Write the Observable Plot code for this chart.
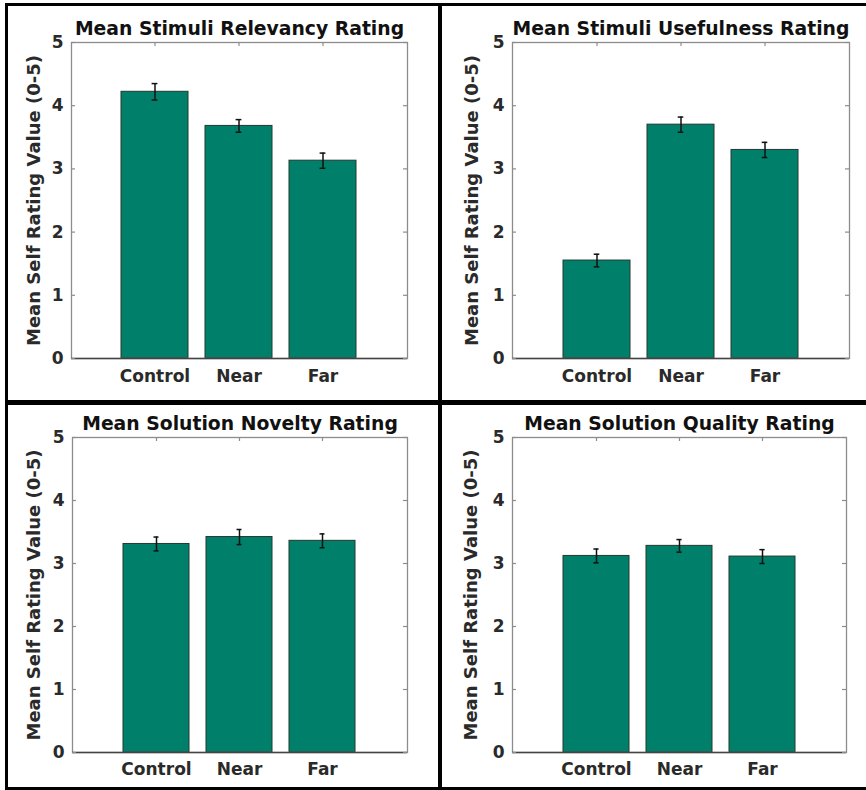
<!DOCTYPE html>
<html><head><meta charset="utf-8">
<script src="https://cdn.jsdelivr.net/npm/d3@7"></script>
<script src="https://cdn.jsdelivr.net/npm/@observablehq/plot@0.6"></script>
<style>
body{margin:0;background:#fff;}
#wrap{position:relative;width:866px;height:790px;overflow:hidden;background:#fff;}
.panel{position:absolute;}
.line{position:absolute;background:#000;}
</style></head><body>
<div id="wrap"></div>
<script>
const categories = ["Control", "Near", "Far"];
const yTicks = [0, 1, 2, 3, 4, 5];
const yLabel = "Mean Self Rating Value (0-5)";

const titleRelevancy = "Mean Stimuli Relevancy Rating";
const relevancy = [4.22, 3.68, 3.13];
const relevancyErr = [0.13, 0.10, 0.12];

const titleUsefulness = "Mean Stimuli Usefulness Rating";
const usefulness = [1.55, 3.70, 3.30];
const usefulnessErr = [0.10, 0.12, 0.12];

const titleNovelty = "Mean Solution Novelty Rating";
const novelty = [3.31, 3.42, 3.36];
const noveltyErr = [0.11, 0.12, 0.11];

const titleQuality = "Mean Solution Quality Rating";
const quality = [3.12, 3.28, 3.11];
const qualityErr = [0.11, 0.10, 0.11];

const wrap = document.getElementById("wrap");

function panel(o) {
  const data = categories.map((c, i) => ({cat: c, value: o.values[i], err: o.errs[i]}));
  const fw = o.width - o.ml - o.mr, fh = o.height - o.mt - o.mb;
  const bw = 0.2 * fw;
  const capInset = (bw - 6) / 2;
  const grey = "#8c8c8c";
  const chart = Plot.plot({
    width: o.width, height: o.height,
    marginTop: o.mt, marginRight: o.mr, marginBottom: o.mb, marginLeft: o.ml,
    style: {fontFamily: "DejaVu Sans", fontWeight: "bold", fontSize: "16.5px", color: "#2a2a2a", background: "#fff", overflow: "visible"},
    x: {domain: categories, paddingInner: 0.2, paddingOuter: 0.6, align: 0.5},
    y: {domain: [0, 5]},
    marks: [
      Plot.barY(data, {x: "cat", y: "value", fill: "#00806a", stroke: "#24382f", strokeWidth: 1}),
      Plot.ruleX(data, {x: "cat", y1: d => d.value - d.err, y2: d => d.value + d.err, stroke: "#111", strokeWidth: 1.5}),
      Plot.tickY(data, {x: "cat", y: d => d.value - d.err, insetLeft: capInset, insetRight: capInset, stroke: "#111", strokeWidth: 1.5}),
      Plot.tickY(data, {x: "cat", y: d => d.value + d.err, insetLeft: capInset, insetRight: capInset, stroke: "#111", strokeWidth: 1.5}),
      Plot.frame({stroke: grey, strokeWidth: 1.3}),
      Plot.ruleY([0], {stroke: "#444", strokeWidth: 1.6}),
      Plot.tickY(yTicks, {y: d => d, insetRight: fw - 4, stroke: grey, strokeWidth: 1.2}),
      Plot.tickY(yTicks, {y: d => d, insetLeft: fw - 4, stroke: grey, strokeWidth: 1.2}),
      Plot.tickX(categories, {x: d => d, insetBottom: fh - 4, stroke: grey, strokeWidth: 1.2}),
      Plot.axisY({ticks: yTicks, tickSize: 0, tickPadding: 8, label: null, fontSize: 17, tickFormat: d => String(d)}),
      Plot.axisX({tickSize: 0, tickPadding: o.tickPad, label: null, fontSize: 17}),
      Plot.text([yLabel], {frameAnchor: "left", textAnchor: "middle", lineAnchor: "middle", rotate: -90, dx: o.labelDx, text: d => d, fontSize: 18, fontWeight: "bold", fill: "#2a2a2a"}),
      Plot.text([o.title], {frameAnchor: "top", textAnchor: "middle", dy: -8, lineAnchor: "bottom", text: d => d, fontSize: 18.8, fontWeight: "bold", fill: "#111"})
    ]
  });
  const div = document.createElement("div");
  div.className = "panel";
  div.style.left = o.left + "px";
  div.style.top = o.top + "px";
  div.appendChild(chart);
  wrap.appendChild(div);
}

panel({title: titleRelevancy, values: relevancy, errs: relevancyErr, left: 8, top: 6, width: 430, height: 394, mt: 36, mr: 31, mb: 42, ml: 63, labelDx: -37, tickPad: 11});
panel({title: titleUsefulness, values: usefulness, errs: usefulnessErr, left: 442, top: 6, width: 424, height: 394, mt: 36, mr: 17, mb: 42, ml: 70, labelDx: -40, tickPad: 11});
panel({title: titleNovelty, values: novelty, errs: noveltyErr, left: 8, top: 405, width: 430, height: 382, mt: 32, mr: 31, mb: 35, ml: 64, labelDx: -38, tickPad: 10});
panel({title: titleQuality, values: quality, errs: qualityErr, left: 442, top: 405, width: 424, height: 382, mt: 32, mr: 20, mb: 35, ml: 70, labelDx: -41, tickPad: 10});

function line(l, t, w, h) {
  const d = document.createElement("div");
  d.className = "line";
  d.style.left = l + "px"; d.style.top = t + "px";
  d.style.width = w + "px"; d.style.height = h + "px";
  wrap.appendChild(d);
}
line(5, 3, 861, 3);
line(5, 3, 3, 787);
line(438, 3, 4, 787);
line(5, 400, 861, 5);
line(5, 787, 861, 3);
</script>
</body></html>
